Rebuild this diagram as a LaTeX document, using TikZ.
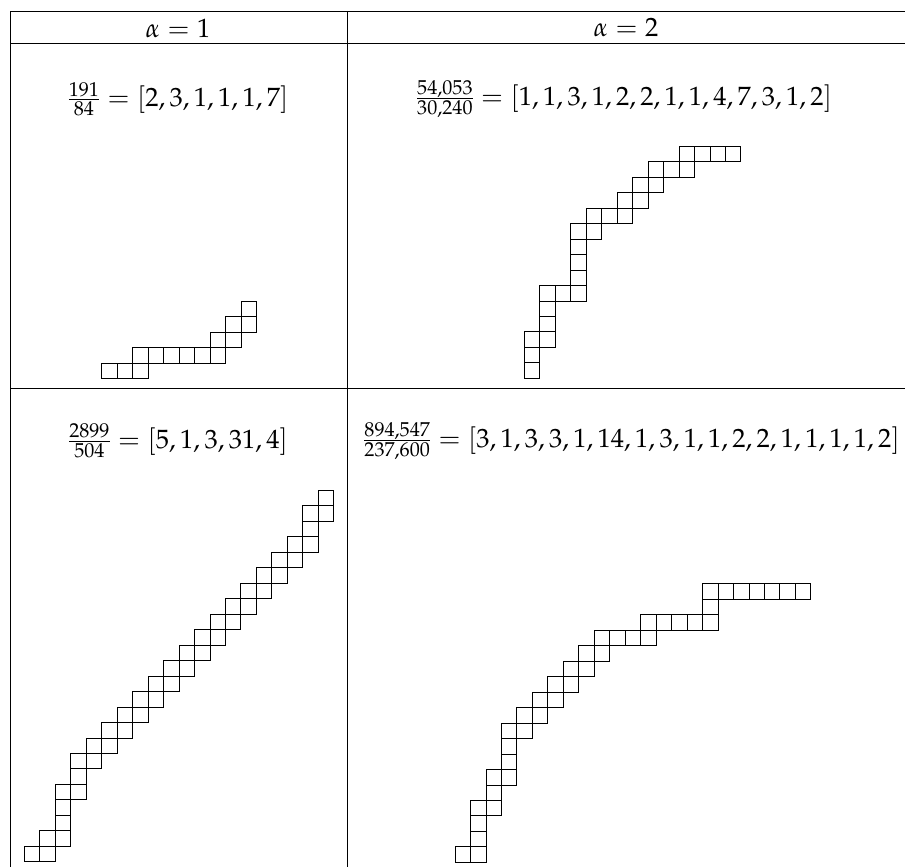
\documentclass[tikz,border=0pt]{standalone}
\usepackage{mathpazo}
\tikzset{
  tile/.style={draw=black,line width=0.8pt},
  rule/.style={draw=black,line width=1pt},
  lbl/.style={font=\fontsize{26.5}{30}\selectfont,inner sep=0pt},
  frm/.style={font=\fontsize{26.5}{30}\selectfont,inner sep=0pt}
}
\newcommand\drawsnake[3]{%
  \foreach \c/\r in {#3}{\draw[tile] ({#1+\c*15.47},{#2-\r*15.47}) rectangle ++(15.47,-15.47);}}
\begin{document}
\begin{tikzpicture}[x=1pt,y=-1pt]
\useasboundingbox (0,0) rectangle (905,867);
% table rules
\draw[rule] (10,11.5) -- (905,11.5);
\draw[rule] (10,44) -- (905,44);
\draw[rule] (10,388.7) -- (905,388.7);
\draw[rule] (10,11.5) -- (10,867);
\draw[rule] (347,11.5) -- (347,867);
% labels
\node[lbl] (h1) at (178,28) {$\alpha=1$};
\node[lbl] (h2) at (626,28) {$\alpha=2$};
\node[frm] (f1) at (178,99) {$\frac{191}{84}=[2,3,1,1,1,7]$};
\node[frm] (f2) at (624,99) {$\frac{54{,}053}{30{,}240}=[1,1,3,1,2,2,1,1,4,7,3,1,2]$};
\node[frm] (f3) at (178,441) {$\frac{2899}{504}=[5,1,3,31,4]$};
\node[frm] (f4) at (631.5,441) {$\frac{894{,}547}{237{,}600}=[3,1,3,3,1,14,1,3,1,1,2,2,1,1,1,1,2]$};
% snake graphs
\drawsnake{101.7}{378.7}{0/0,1/0,2/0,2/1,3/1,4/1,5/1,6/1,7/1,7/2,8/2,8/3,9/3,9/4}
\drawsnake{524.3}{378.3}{0/0,0/1,0/2,1/2,1/3,1/4,1/5,2/5,3/5,3/6,3/7,3/8,3/9,4/9,4/10,5/10,6/10,6/11,7/11,7/12,8/12,8/13,9/13,10/13,10/14,11/14,12/14,13/14}
\drawsnake{24.3}{861.7}{0/0,1/0,1/1,2/1,2/2,2/3,2/4,3/4,3/5,3/6,4/6,4/7,5/7,5/8,6/8,6/9,7/9,7/10,8/10,8/11,9/11,9/12,10/12,10/13,11/13,11/14,12/14,12/15,13/15,13/16,14/16,14/17,15/17,15/18,16/18,16/19,17/19,17/20,18/20,18/21,18/22,19/22,19/23}
\drawsnake{455}{862.3}{0/0,1/0,1/1,1/2,1/3,2/3,2/4,2/5,3/5,3/6,3/7,3/8,4/8,4/9,5/9,5/10,6/10,6/11,7/11,7/12,8/12,8/13,9/13,9/14,10/14,11/14,12/14,12/15,13/15,14/15,15/15,16/15,16/16,16/17,17/17,18/17,19/17,20/17,21/17,22/17}
\end{tikzpicture}
\end{document}
